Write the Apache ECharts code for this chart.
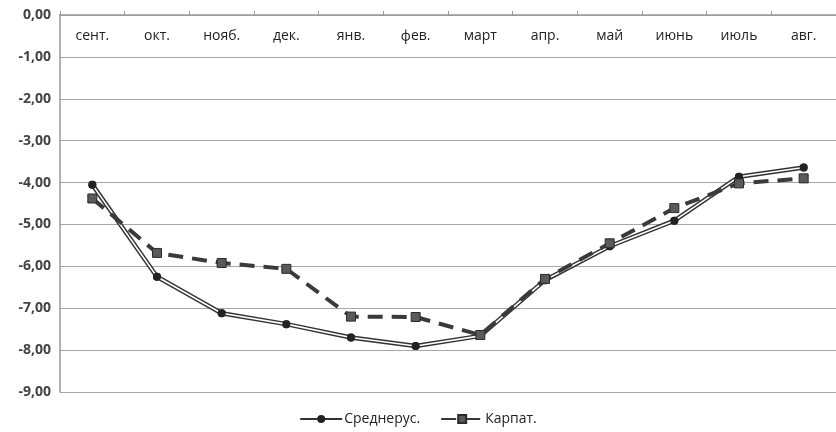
<!DOCTYPE html>
<html><head><meta charset="utf-8">
<script src="https://cdn.jsdelivr.net/npm/echarts@6/dist/echarts.min.js"></script>
<style>html,body{margin:0;padding:0;background:#fff}#c{width:836px;height:432px}</style>
</head><body><div id="c"></div>
<script>
const categories = ['сент.','окт.','нояб.','дек.','янв.','фев.','март','апр.','май','июнь','июль','авг.'];
const sredneruss = [-4.05,-6.25,-7.12,-7.38,-7.70,-7.90,-7.66,-6.33,-5.52,-4.91,-3.86,-3.64];
const karpat = [-4.38,-5.68,-5.92,-6.06,-7.20,-7.21,-7.64,-6.30,-5.45,-4.61,-4.02,-3.90];
const yTicks = {min:-9, max:0, interval:1};
const nameA = 'Среднерус.', nameB = 'Карпат.';

const chart = echarts.init(document.getElementById('c'), null, {renderer:'canvas'});
const font = 'Open Sans, Liberation Sans, sans-serif';
chart.setOption({
  animation:false,
  backgroundColor:'#fff',
  textStyle:{fontFamily:font},
  grid:{left:60, top:15, width:784, height:377, containLabel:false},
  legend:{
    bottom:1, left:'center', itemGap:20, itemWidth:42, itemHeight:10,
    textStyle:{fontSize:14, color:'#222', fontFamily:font, padding:[0,0,0,-3]},
    data:[nameA, nameB]
  },
  xAxis:{
    type:'category', data:categories, position:'top', boundaryGap:true,
    axisLine:{lineStyle:{color:'#999', width:1.5}},
    axisTick:{show:true, length:4, lineStyle:{color:'#999'}},
    axisLabel:{inside:true, margin:14, fontSize:14, color:'#222', fontFamily:font}
  },
  yAxis:{
    type:'value', min:yTicks.min, max:yTicks.max, interval:yTicks.interval,
    axisLine:{show:true, lineStyle:{color:'#999', width:1.5}},
    axisTick:{show:false},
    splitLine:{lineStyle:{color:'#a6a6a6', width:1.2}},
    axisLabel:{fontSize:14, fontWeight:'bold', color:'#444', margin:9, fontFamily:font,
      formatter:v=>v.toFixed(2).replace('.',',')}
  },
  series:[
    {name:nameA, type:'line', data:sredneruss, z:2,
     symbol:'circle', symbolSize:8,
     itemStyle:{color:'#222'},
     lineStyle:{color:'#333', width:4.5}},
    {name:'_inner', type:'line', data:sredneruss, z:3, symbol:'none',
     lineStyle:{color:'#fff', width:1.6}, silent:true},
    {name:'_dots', type:'line', data:sredneruss, z:4,
     symbol:'circle', symbolSize:8, showSymbol:true,
     itemStyle:{color:'#222'}, lineStyle:{width:0, opacity:0}},
    {name:nameB, type:'line', data:karpat, z:5,
     symbol:'rect', symbolSize:9,
     itemStyle:{color:'#5a5a5a', borderColor:'#2a2a2a', borderWidth:1},
     lineStyle:{color:'#3a3a3a', width:4, type:[15,9]}}
  ]
});
</script></body></html>
